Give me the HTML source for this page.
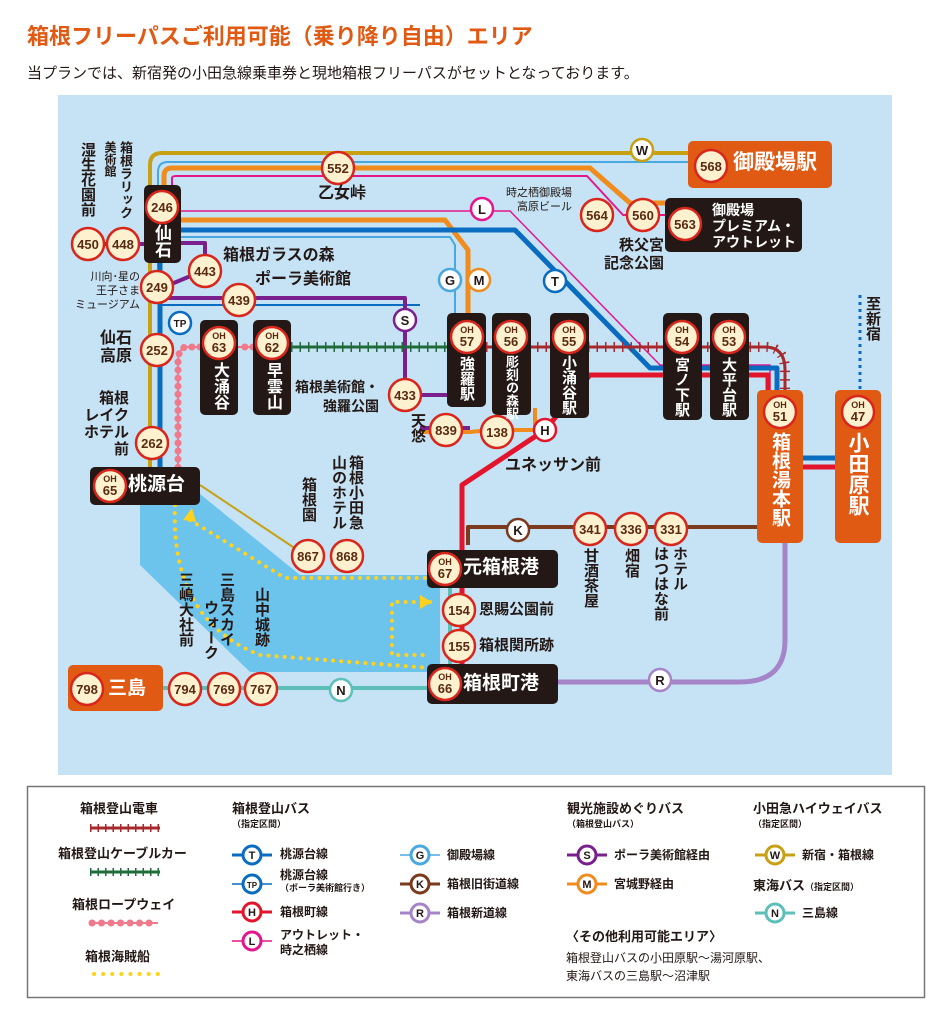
<!DOCTYPE html>
<html><head><meta charset="utf-8">
<style>
body{margin:0;width:950px;height:1015px;background:#fff;position:relative;font-family:"Liberation Sans","Noto Sans CJK JP",sans-serif;overflow:hidden}
.a{position:absolute;white-space:nowrap;color:#231815;font-weight:bold;line-height:1}
.v{writing-mode:vertical-rl;line-height:1}
.w{color:#fff}
svg{position:absolute;left:0;top:0}
</style></head><body>
<div class="a" style="left:27px;top:26px;font-size:22px;color:#e05a14">箱根フリーパスご利用可能（乗り降り自由）エリア</div>
<div class="a" style="left:27px;top:66px;font-size:15px;font-weight:normal">当プランでは、新宿発の小田急線乗車券と現地箱根フリーパスがセットとなっております。</div>
<svg width="950" height="1015" viewBox="0 0 950 1015">
<defs>
<g id="b"><circle r="16" fill="#fdf1cf" stroke="#d9261c" stroke-width="2.5"/></g>
</defs>
<rect x="58" y="95" width="834" height="680" fill="#c6e3f5"/>
<polygon points="140,490 195,490 300,575 440,575 440,672 250,672 140,565" fill="#6cc3ec"/>
<g fill="none" stroke-linejoin="round">
<path d="M150,470 V165 Q150,153 162,153 H690" stroke="#c8a014" stroke-width="4"/>
<path d="M158,300 V172 Q158,162 168,162 H690" stroke="#4aa8e0" stroke-width="2"/>
<path d="M164,200 V176 Q164,168 172,168 H590 L630,203 H670" stroke="#f08c1e" stroke-width="5"/>
<path d="M172,200 V178 Q172,176 176,176 H587 L623,215 H665" stroke="#e4168c" stroke-width="2"/>
<path d="M181,211 H510 L660,365 H770 V395" stroke="#e4168c" stroke-width="1.5"/>
<path d="M181,220 H445 L468,250 V315" stroke="#f08c1e" stroke-width="5"/>
<path d="M160,470 V230 H515 L650,368 H777 V395" stroke="#0a6cc0" stroke-width="5"/>
<path d="M160,237 H450 L455,245 V315" stroke="#4aa8e0" stroke-width="2"/>
<path d="M160,305 H420" stroke="#0a6cc0" stroke-width="2"/>
<path d="M105,244 H144 M181,243 H205 V262 M205,270 L157,290 M157,298 H405 V395 H450 M420,428 H470" stroke="#7a1f8e" stroke-width="4"/>
<path d="M420,432 H470 L490,430 H535 V408" stroke="#f08c1e" stroke-width="4"/>
<path d="M462,680 V485 L545,430 L590,375 H768 V395" stroke="#e3152c" stroke-width="5"/>
<path d="M468,545 V527 H760" stroke="#7b3a1e" stroke-width="4"/>
<path d="M558,682 H740 Q785,682 785,640 V540" stroke="#a684c8" stroke-width="5"/>
<path d="M160,688 H430" stroke="#5cc0b8" stroke-width="4"/>
<path d="M450,570 V680" stroke="#5cc0b8" stroke-width="4"/>
<path d="M200,485 L305,555" stroke="#c8a014" stroke-width="2"/>
<path d="M803,458 H835" stroke="#0a6cc0" stroke-width="5"/>
<path d="M803,467 H835" stroke="#e3152c" stroke-width="5"/>
<path d="M860,295 V390" stroke="#0a6cc0" stroke-width="3" stroke-dasharray="3,4"/>
<path d="M486,347 H765 Q785,347 785,370 V392" stroke="#a8292d" stroke-width="3"/>
<path d="M486,347 H765 Q785,347 785,370 V392" stroke="#a8292d" stroke-width="10" stroke-dasharray="1.5,7"/>
<path d="M291,347 H447" stroke="#1f6b3a" stroke-width="3"/>
<path d="M291,347 H447" stroke="#1f6b3a" stroke-width="10" stroke-dasharray="1.5,7"/>
<path d="M253,347 H238 M200,347 H185 Q178,350 178,362 V480" stroke="#f07a8c" stroke-width="2"/>
<path d="M253,347 H238 M200,347 H185 Q178,350 178,362 V480" stroke="#f07a8c" stroke-width="7" stroke-linecap="round" stroke-dasharray="0.1,8"/>
<path d="M175,505 Q170,620 260,655 L430,668 M190,520 L285,578 H430 M430,602 H392 V655 H430" stroke="#ffd21e" stroke-width="4" stroke-linecap="round" stroke-dasharray="0.1,8"/>
</g>
<polygon points="183,520 192,508 196,522" fill="#ffd21e"/>
<polygon points="420,595 432,602 420,609" fill="#ffd21e"/>
<g fill="#231815">
<rect x="144" y="185" width="37" height="78" rx="5"/>
<rect x="447" y="313" width="39" height="94" rx="5"/>
<rect x="492" y="313" width="39" height="102" rx="5"/>
<rect x="550" y="313" width="39" height="105" rx="5"/>
<rect x="663" y="313" width="39" height="107" rx="5"/>
<rect x="710" y="313" width="39" height="107" rx="5"/>
<rect x="200" y="320" width="38" height="95" rx="5"/>
<rect x="253" y="320" width="38" height="95" rx="5"/>
<rect x="90" y="467" width="110" height="38" rx="5"/>
<rect x="427" y="550" width="131" height="38" rx="5"/>
<rect x="427" y="664" width="131" height="40" rx="5"/>
<rect x="665" y="198" width="137" height="54" rx="5"/>
</g>
<g fill="#e05a14">
<rect x="688" y="141" width="144" height="47" rx="5"/>
<rect x="68" y="665" width="95" height="46" rx="5"/>
<rect x="757" y="390" width="46" height="153" rx="5"/>
<rect x="835" y="390" width="46" height="153" rx="5"/>
</g>
<g stroke-width="2.5" fill="#fff">
<circle cx="642" cy="150" r="11" stroke="#c8a014"/>
<circle cx="482" cy="209" r="11" stroke="#e4168c"/>
<circle cx="450" cy="280" r="11" stroke="#4aa8e0"/>
<circle cx="479" cy="280" r="11" stroke="#f08c1e"/>
<circle cx="555" cy="281" r="11" stroke="#0a6cc0"/>
<circle cx="405" cy="320" r="11" stroke="#7a1f8e"/>
<circle cx="180" cy="323" r="11" stroke="#0a6cc0"/>
<circle cx="545" cy="430" r="11" stroke="#e3152c"/>
<circle cx="518" cy="530" r="11" stroke="#7b3a1e"/>
<circle cx="660" cy="680" r="11" stroke="#a684c8"/>
<circle cx="341" cy="690" r="11" stroke="#5cc0b8"/>
</g>
<g font-size="13" font-weight="bold" text-anchor="middle" fill="#231815" font-family="Liberation Sans,sans-serif">
<text x="642" y="155">W</text><text x="482" y="214">L</text><text x="450" y="285">G</text><text x="479" y="285">M</text><text x="555" y="286">T</text><text x="405" y="325">S</text><text x="180" y="327" font-size="10">TP</text><text x="545" y="435">H</text><text x="518" y="535">K</text><text x="660" y="685">R</text><text x="341" y="695">N</text>
</g>
<g>
<use href="#b" x="338" y="168"/><use href="#b" x="162" y="207"/><use href="#b" x="88" y="244"/><use href="#b" x="123" y="244"/>
<use href="#b" x="205" y="271"/><use href="#b" x="157" y="287"/><use href="#b" x="239" y="300"/><use href="#b" x="157" y="350"/>
<use href="#b" x="152" y="443"/><use href="#b" x="405" y="395"/><use href="#b" x="446" y="430"/><use href="#b" x="497" y="432"/>
<use href="#b" x="597" y="215"/><use href="#b" x="643" y="215"/><use href="#b" x="685" y="224"/><use href="#b" x="711" y="166"/>
<use href="#b" x="308" y="556"/><use href="#b" x="347" y="556"/><use href="#b" x="590" y="529"/><use href="#b" x="631" y="529"/><use href="#b" x="671" y="529"/>
<use href="#b" x="459" y="610"/><use href="#b" x="459" y="646"/><use href="#b" x="87" y="689"/><use href="#b" x="185" y="689"/><use href="#b" x="224" y="689"/><use href="#b" x="261" y="689"/>
<use href="#b" x="467" y="337"/><use href="#b" x="511" y="337"/><use href="#b" x="569" y="337"/><use href="#b" x="682" y="337"/><use href="#b" x="729" y="337"/>
<use href="#b" x="219" y="343"/><use href="#b" x="272" y="343"/><use href="#b" x="110" y="486"/><use href="#b" x="445" y="569"/><use href="#b" x="445" y="684"/>
<use href="#b" x="780" y="412"/><use href="#b" x="858" y="412"/>
</g>
<g font-size="13" font-weight="bold" text-anchor="middle" fill="#5a2a10" font-family="Liberation Sans,sans-serif">
<text x="338" y="173">552</text><text x="162" y="212">246</text><text x="88" y="249">450</text><text x="123" y="249">448</text>
<text x="205" y="276">443</text><text x="157" y="292">249</text><text x="239" y="305">439</text><text x="157" y="355">252</text>
<text x="152" y="448">262</text><text x="405" y="400">433</text><text x="446" y="435">839</text><text x="497" y="437">138</text>
<text x="597" y="220">564</text><text x="643" y="220">560</text><text x="685" y="229">563</text><text x="711" y="171">568</text>
<text x="308" y="561">867</text><text x="347" y="561">868</text><text x="590" y="534">341</text><text x="631" y="534">336</text><text x="671" y="534">331</text>
<text x="459" y="615">154</text><text x="459" y="651">155</text><text x="87" y="694">798</text><text x="185" y="694">794</text><text x="224" y="694">769</text><text x="261" y="694">767</text>
</g>
<g font-size="9" font-weight="bold" text-anchor="middle" fill="#5a2a10" font-family="Liberation Sans,sans-serif">
<text x="467" y="333">OH</text><text x="511" y="333">OH</text><text x="569" y="333">OH</text><text x="682" y="333">OH</text><text x="729" y="333">OH</text><text x="219" y="339">OH</text><text x="272" y="339">OH</text><text x="110" y="482">OH</text><text x="445" y="565">OH</text><text x="445" y="680">OH</text><text x="780" y="408">OH</text><text x="858" y="408">OH</text>
</g>
<g font-size="13" font-weight="bold" text-anchor="middle" fill="#5a2a10" font-family="Liberation Sans,sans-serif">
<text x="467" y="346">57</text><text x="511" y="346">56</text><text x="569" y="346">55</text><text x="682" y="346">54</text><text x="729" y="346">53</text><text x="219" y="352">63</text><text x="272" y="352">62</text><text x="110" y="495">65</text><text x="445" y="578">67</text><text x="445" y="693">66</text><text x="780" y="421">51</text><text x="858" y="421">47</text>
</g>
<rect x="27.5" y="786.5" width="897" height="211" fill="#fff" stroke="#777" stroke-width="1.5"/>
<g fill="none">
<path d="M90,828 H160" stroke="#a8292d" stroke-width="3"/><path d="M90,828 H160" stroke="#a8292d" stroke-width="8" stroke-dasharray="1.5,6"/>
<path d="M90,872 H160" stroke="#1f6b3a" stroke-width="3"/><path d="M90,872 H160" stroke="#1f6b3a" stroke-width="8" stroke-dasharray="1.5,6"/>
<path d="M92,923 H158" stroke="#f07a8c" stroke-width="2"/><path d="M92,923 H158" stroke="#f07a8c" stroke-width="7" stroke-linecap="round" stroke-dasharray="0.1,9.4"/>
<path d="M94,974 H158" stroke="#ffd21e" stroke-width="4" stroke-linecap="round" stroke-dasharray="0.1,9"/>
</g>
<g stroke-width="3" fill="#fff">
<path d="M232,855 H272" stroke="#0a6cc0"/><circle cx="252" cy="855" r="9" stroke="#0a6cc0"/>
<path d="M232,884 H272" stroke="#0a6cc0" stroke-width="1.5"/><circle cx="252" cy="884" r="9" stroke="#0a6cc0"/>
<path d="M232,912 H272" stroke="#e3152c"/><circle cx="252" cy="912" r="9" stroke="#e3152c"/>
<path d="M232,941 H272" stroke="#e4168c" stroke-width="1.5"/><circle cx="252" cy="941" r="9" stroke="#e4168c"/>
<path d="M400,855 H440" stroke="#4aa8e0" stroke-width="1.5"/><circle cx="420" cy="855" r="9" stroke="#4aa8e0"/>
<path d="M400,884 H440" stroke="#7b3a1e"/><circle cx="420" cy="884" r="9" stroke="#7b3a1e"/>
<path d="M400,913 H440" stroke="#a684c8"/><circle cx="420" cy="913" r="9" stroke="#a684c8"/>
<path d="M567,855 H607" stroke="#7a1f8e"/><circle cx="587" cy="855" r="9" stroke="#7a1f8e"/>
<path d="M567,884 H607" stroke="#f08c1e"/><circle cx="587" cy="884" r="9" stroke="#f08c1e"/>
<path d="M755,855 H795" stroke="#c8a014"/><circle cx="775" cy="855" r="9" stroke="#c8a014"/>
<path d="M755,913 H795" stroke="#5cc0b8"/><circle cx="775" cy="913" r="9" stroke="#5cc0b8"/>
</g>
<g font-size="11" font-weight="bold" text-anchor="middle" fill="#231815" font-family="Liberation Sans,sans-serif">
<text x="252" y="859">T</text><text x="252" y="888" font-size="8">TP</text><text x="252" y="916">H</text><text x="252" y="945">L</text><text x="420" y="859">G</text><text x="420" y="888">K</text><text x="420" y="917">R</text><text x="587" y="859">S</text><text x="587" y="888">M</text><text x="775" y="859">W</text><text x="775" y="917">N</text>
</g>
</svg>
<div class="a v" style="left:80px;top:142px;font-size:15px">湿生花園前</div>
<div class="a v" style="left:104px;top:141px;font-size:12px">美術館</div>
<div class="a v" style="left:119px;top:141px;font-size:13px">箱根ラリック</div>
<div class="a v w" style="left:153px;top:224px;font-size:17px">仙石</div>
<div class="a" style="left:318px;top:186px;font-size:16px">乙女峠</div>
<div class="a" style="left:223px;top:248px;font-size:16px">箱根ガラスの森</div>
<div class="a" style="left:255px;top:272px;font-size:16px">ポーラ美術館</div>
<div class="a" style="left:60px;top:270px;width:80px;font-size:11px;text-align:right;line-height:14px;font-weight:normal">川向･星の<br>王子さま<br>ミュージアム</div>
<div class="a" style="left:100px;top:330px;font-size:16px;line-height:18px">仙石<br>高原</div>
<div class="a" style="left:84px;top:390px;font-size:15px;line-height:17px;text-align:right">箱根<br>レイク<br>ホテル<br>前</div>
<div class="a" style="left:295px;top:378px;font-size:14px;line-height:19px;text-align:right">箱根美術館・<br>　強羅公園</div>
<div class="a v" style="left:410px;top:413px;font-size:15px">天悠</div>
<div class="a" style="left:505px;top:458px;font-size:16px">ユネッサン前</div>
<div class="a" style="left:506px;top:186px;font-size:11px;line-height:14px;text-align:right;font-weight:normal">時之栖御殿場<br>高原ビール</div>
<div class="a" style="left:604px;top:237px;font-size:15px;line-height:18px;text-align:right">秩父宮<br>記念公園</div>
<div class="a w" style="left:712px;top:202px;font-size:14px;line-height:16px">御殿場<br>プレミアム・<br>アウトレット</div>
<div class="a w" style="left:733px;top:152px;font-size:21px">御殿場駅</div>
<div class="a v" style="left:865px;top:296px;font-size:15px">至新宿</div>
<div class="a v w" style="left:459px;top:356px;font-size:15px">強羅駅</div>
<div class="a v w" style="left:505px;top:355px;font-size:13px">彫刻の森駅</div>
<div class="a v w" style="left:561px;top:355px;font-size:15px">小涌谷駅</div>
<div class="a v w" style="left:674px;top:357px;font-size:15px">宮ノ下駅</div>
<div class="a v w" style="left:721px;top:357px;font-size:15px">大平台駅</div>
<div class="a v w" style="left:211px;top:362px;font-size:16px">大涌谷</div>
<div class="a v w" style="left:264px;top:362px;font-size:16px">早雲山</div>
<div class="a v w" style="left:770px;top:432px;font-size:19px">箱根湯本駅</div>
<div class="a v w" style="left:847px;top:432px;font-size:21px">小田原駅</div>
<div class="a w" style="left:128px;top:475px;font-size:19px">桃源台</div>
<div class="a v" style="left:301px;top:477px;font-size:15px">箱根園</div>
<div class="a v" style="left:331px;top:455px;font-size:15px">山のホテル</div>
<div class="a v" style="left:348px;top:455px;font-size:15px">箱根小田急</div>
<div class="a w" style="left:463px;top:558px;font-size:19px">元箱根港</div>
<div class="a w" style="left:463px;top:674px;font-size:19px">箱根町港</div>
<div class="a" style="left:479px;top:602px;font-size:15px">恩賜公園前</div>
<div class="a" style="left:479px;top:638px;font-size:15px">箱根関所跡</div>
<div class="a v" style="left:583px;top:548px;font-size:15px">甘酒茶屋</div>
<div class="a v" style="left:624px;top:548px;font-size:15px">畑宿</div>
<div class="a v" style="left:672px;top:546px;font-size:15px">ホテル</div>
<div class="a v" style="left:653px;top:546px;font-size:15px">はつはな前</div>
<div class="a v" style="left:178px;top:572px;font-size:15px">三嶋大社前</div>
<div class="a v" style="left:219px;top:572px;font-size:15px">三島スカイ</div>
<div class="a v" style="left:203px;top:600px;font-size:15px">ウォーク</div>
<div class="a v" style="left:254px;top:587px;font-size:15px">山中城跡</div>
<div class="a w" style="left:108px;top:679px;font-size:19px">三島</div>
<div class="a" style="left:80px;top:802px;font-size:13px">箱根登山電車</div>
<div class="a" style="left:58px;top:847px;font-size:13px">箱根登山ケーブルカー</div>
<div class="a" style="left:72px;top:898px;font-size:13px">箱根ロープウェイ</div>
<div class="a" style="left:85px;top:950px;font-size:13px">箱根海賊船</div>
<div class="a" style="left:232px;top:802px;font-size:13px">箱根登山バス</div>
<div class="a" style="left:232px;top:820px;font-size:9px">（指定区間）</div>
<div class="a" style="left:280px;top:848px;font-size:12px">桃源台線</div>
<div class="a" style="left:280px;top:869px;font-size:12px">桃源台線</div>
<div class="a" style="left:280px;top:884px;font-size:9px">（ポーラ美術館行き）</div>
<div class="a" style="left:280px;top:906px;font-size:12px">箱根町線</div>
<div class="a" style="left:280px;top:928px;font-size:12px;line-height:15px">アウトレット・<br>時之栖線</div>
<div class="a" style="left:447px;top:849px;font-size:12px">御殿場線</div>
<div class="a" style="left:447px;top:878px;font-size:12px">箱根旧街道線</div>
<div class="a" style="left:447px;top:907px;font-size:12px">箱根新道線</div>
<div class="a" style="left:567px;top:802px;font-size:13px">観光施設めぐりバス</div>
<div class="a" style="left:567px;top:820px;font-size:9px">（箱根登山バス）</div>
<div class="a" style="left:614px;top:849px;font-size:12px">ポーラ美術館経由</div>
<div class="a" style="left:614px;top:878px;font-size:12px">宮城野経由</div>
<div class="a" style="left:753px;top:802px;font-size:13px">小田急ハイウェイバス</div>
<div class="a" style="left:753px;top:820px;font-size:9px">（指定区間）</div>
<div class="a" style="left:802px;top:849px;font-size:12px">新宿・箱根線</div>
<div class="a" style="left:753px;top:879px;font-size:13px">東海バス<span style="font-size:9px">（指定区間）</span></div>
<div class="a" style="left:802px;top:907px;font-size:12px">三島線</div>
<div class="a" style="left:566px;top:930px;font-size:13px">〈その他利用可能エリア〉</div>
<div class="a" style="left:566px;top:952px;font-size:12px;font-weight:normal">箱根登山バスの小田原駅～湯河原駅、</div>
<div class="a" style="left:566px;top:970px;font-size:12px;font-weight:normal">東海バスの三島駅～沼津駅</div>
</body></html>
